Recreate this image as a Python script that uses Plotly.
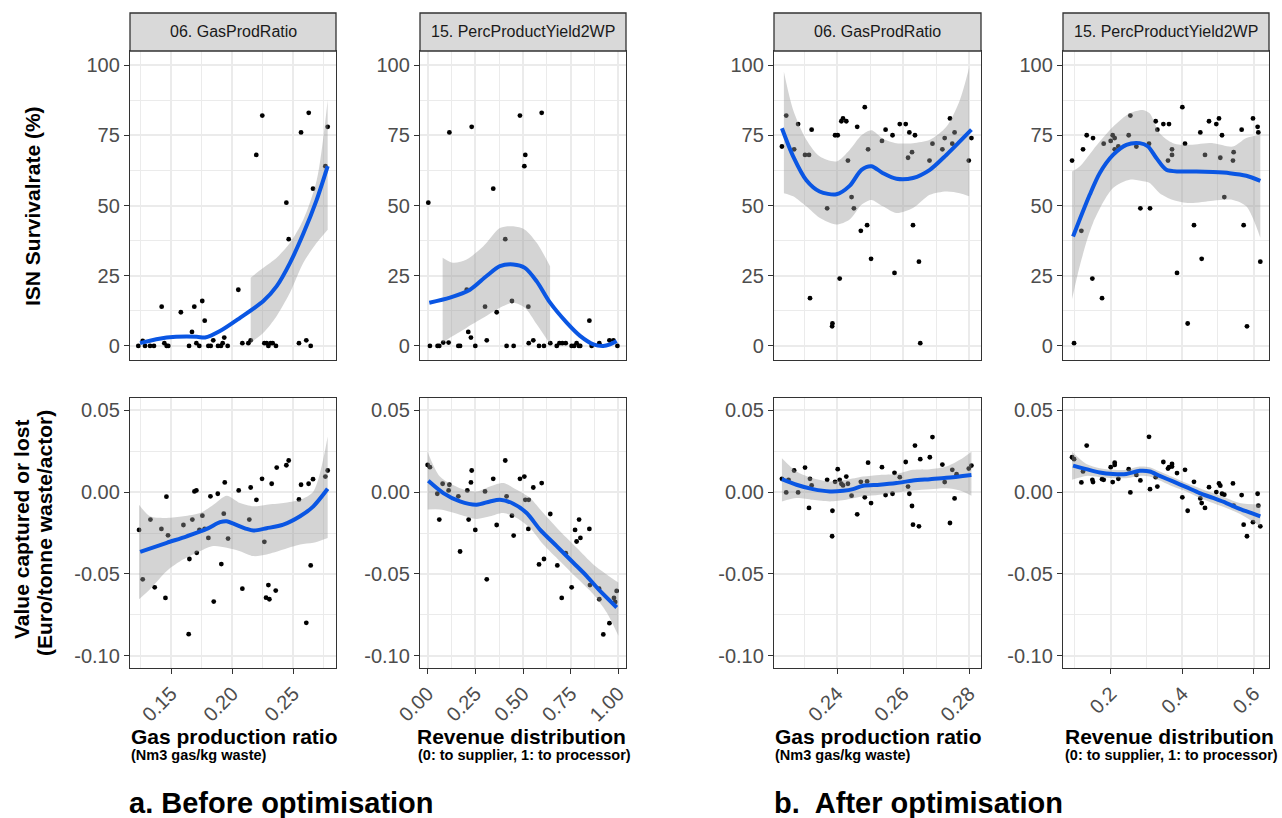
import plotly.graph_objects as go

W, H = 1282, 818

# ---------------- DATA ----------------
strip_labels = ["06. GasProdRatio", "15. PercProductYield2WP"]

# x ticks per column
gas_a_ticks = [0.15, 0.20, 0.25]
gas_a_ticktext = ["0.15", "0.20", "0.25"]
gas_a_minor = [0.125, 0.175, 0.225, 0.275]
rev_a_ticks = [0.0, 0.25, 0.5, 0.75, 1.0]
rev_a_ticktext = ["0.00", "0.25", "0.50", "0.75", "1.00"]
rev_a_minor = [0.125, 0.375, 0.625, 0.875]
gas_b_ticks = [0.24, 0.26, 0.28]
gas_b_ticktext = ["0.24", "0.26", "0.28"]
gas_b_minor = [0.23, 0.25, 0.27]
rev_b_ticks = [0.2, 0.4, 0.6]
rev_b_ticktext = ["0.2", "0.4", "0.6"]
rev_b_minor = [0.1, 0.3, 0.5]

isn_ticks = [0, 25, 50, 75, 100]
isn_ticktext = ["0", "25", "50", "75", "100"]
isn_minor = [12.5, 37.5, 62.5, 87.5]
val_ticks = [-0.10, -0.05, 0.0, 0.05]
val_ticktext = ["-0.10", "-0.05", "0.00", "0.05"]
val_minor = [-0.075, -0.025, 0.025]

# ---- a. Before optimisation, Gas production ratio, ISN survival rate
a_gas_top_x = [0.1232,0.1268,0.1287,0.1328,0.1360,0.1423,0.1445,0.1464,0.1477,0.1580,0.1647,0.1671,0.1690,0.1707,0.1731,0.1755,0.1775,0.1805,0.1824,0.1845,0.1884,0.1908,0.1922,0.1935,0.1963,0.2050,0.2083,0.2132,0.2151,0.2197,0.2246,0.2263,0.2282,0.2296,0.2315,0.2331,0.2358,0.2443,0.2462,0.2546,0.2563,0.2606,0.2626,0.2642,0.2661,0.2762,0.2781]
a_gas_top_y = [0,1.8,0,0,0,14,1,0,0,12,0,5,14,1,0,16,9,0,0,2,0,0,1,3,0,20,1,1,2,68,82,1,1,0,1,1,0,51,38,1,76,2,83,0,56,64,78]
a_gas_top_fit_x = [0.1246,0.1464,0.171,0.1778,0.19,0.2064,0.2255,0.2364,0.2473,0.2582,0.2691,0.2781]
a_gas_top_fit_y = [1,3,3.3,3,5.3,10,16,21.3,29.6,40,52,64]
a_gas_top_band_x = [0.2151,0.2255,0.2364,0.2473,0.2582,0.2691,0.2781]
a_gas_top_band_hi = [24.3,27.8,31.4,36.7,45,59,87.6]
a_gas_top_band_lo = [1.2,4.7,10.7,19,29.6,36.7,41.4]

# ---- a. Revenue distribution, ISN survival rate
a_rev_top_x = [0.0035,0.012,0.052,0.061,0.082,0.110,0.114,0.161,0.170,0.205,0.213,0.227,0.231,0.250,0.301,0.310,0.344,0.362,0.407,0.414,0.442,0.451,0.484,0.507,0.512,0.528,0.530,0.554,0.584,0.598,0.610,0.643,0.677,0.691,0.706,0.724,0.755,0.768,0.781,0.793,0.800,0.848,0.860,0.900,0.953,0.974,0.995]
a_rev_top_y = [51,0,0,0,1.2,1.2,76,0,0,20,5,3,78,0,14,2,56,12,38,0,16,0,82,64,68,14,1,2,0,83,0,1,0,1,1,1,0,0,1,0,0,9,0,1,2,2,0]
a_rev_top_fit_x = [0.0087,0.117,0.222,0.309,0.379,0.449,0.51,0.572,0.642,0.729,0.799,0.869,0.921,0.956,0.991]
a_rev_top_fit_y = [15.4,17.2,20,24.9,28.4,29,27.8,23,15.4,8.3,3.6,0.6,0,0.6,1.8]
a_rev_top_band_x = [0.0787,0.1346,0.2045,0.292,0.379,0.449,0.51,0.572,0.642]
a_rev_top_band_hi = [31.4,29.6,30.8,35.5,42,42.6,41.4,36.7,28.4]
a_rev_top_band_lo = [1.2,3.6,6.5,10,13.6,15.4,13.6,7.7,0.6]

# ---- b. After optimisation, Gas production ratio, ISN survival rate
b_gas_top_x = [0.2233,0.2246,0.2270,0.2282,0.2303,0.2315,0.2318,0.2323,0.2370,0.2385,0.2386,0.2394,0.2402,0.2408,0.2413,0.2418,0.2428,0.2433,0.2444,0.2451,0.2461,0.2472,0.2484,0.2491,0.2494,0.2503,0.2536,0.2547,0.2568,0.2574,0.2590,0.2608,0.2615,0.2619,0.2627,0.2630,0.2636,0.2648,0.2652,0.2680,0.2689,0.2719,0.2726,0.2742,0.2749,0.2756,0.2799,0.2807]
b_gas_top_y = [71,82,70,79,68,68,17,77,49,7,8,75,75,24,80,81,80,66,53,49,78,41,85,43,70,31,73,77,75,26,79,79,67,76,69,43,75,30,1,66,72,70,74,81,72,76,66,74]
b_gas_top_fit_x = [0.2233,0.2267,0.2307,0.2347,0.2398,0.2438,0.2474,0.2504,0.2539,0.258,0.263,0.2681,0.2731,0.2772,0.2807]
b_gas_top_fit_y = [77.5,67.5,59,55,54,57,62.7,64,61.5,59.5,59.8,62.7,68,72.8,77]
b_gas_top_band_x = [0.2239,0.2267,0.2307,0.2347,0.2398,0.2438,0.2474,0.2504,0.2539,0.258,0.263,0.2681,0.2731,0.2772,0.2800]
b_gas_top_band_hi = [97.6,84,73.4,67.5,65.7,69.8,75,76.8,73.8,72.2,72.2,73.4,78,87.6,99]
b_gas_top_band_lo = [54.4,53.3,49.7,45.6,43.2,45,50.3,52,49.7,47.3,49.1,53.8,55,54.4,53.3]

# ---- b. Revenue distribution, ISN survival rate
b_rev_top_x = [0.0919,0.0975,0.1180,0.1226,0.1329,0.1487,0.1506,0.1758,0.1804,0.2000,0.2056,0.2112,0.2112,0.2214,0.2503,0.2550,0.2718,0.2830,0.3072,0.3100,0.3258,0.3305,0.3473,0.3631,0.3603,0.3715,0.3715,0.3855,0.4004,0.4079,0.4153,0.4330,0.4507,0.4545,0.4638,0.4750,0.4954,0.5029,0.5066,0.5113,0.5178,0.5420,0.5439,0.5663,0.5719,0.5812,0.5980,0.6110,0.6129,0.6185]
b_rev_top_y = [66,1,41,70,75,24,74,17,72,73,75,74,70,71,75,82,71,49,72,49,80,77,79,79,66,68,70,26,85,72,8,43,76,31,68,80,79,81,67,75,53,66,69,77,43,7,81,78,76,30]
b_rev_top_fit_x = [0.0947,0.1133,0.1413,0.1692,0.2065,0.2438,0.2811,0.3044,0.3277,0.3556,0.3929,0.4395,0.4861,0.5327,0.5793,0.6185]
b_rev_top_fit_y = [39,45,53.8,61.5,68,71.6,72.2,71,66.9,62.7,62.1,62.1,61.9,61.5,60.6,58.8]
b_rev_top_band_x = [0.0919,0.1133,0.1506,0.2065,0.2531,0.2904,0.309,0.337,0.3743,0.4209,0.4861,0.542,0.5793,0.6185]
b_rev_top_band_hi = [62.1,63.9,69.8,78,82.8,84,82.8,75.7,72.2,71.6,72.2,71,74,75.1]
b_rev_top_band_lo = [16.6,28.4,43.8,56.2,59.2,58.6,58,54.4,52,50.9,51.7,52,49.7,38.5]

# ---- a. Gas production ratio, value captured or lost
a_gas_bot_x = [0.1238,0.1268,0.1331,0.1366,0.1421,0.1454,0.1462,0.1475,0.1601,0.1644,0.1650,0.1674,0.1691,0.1707,0.1710,0.1732,0.1756,0.1775,0.1805,0.1822,0.1849,0.1882,0.1911,0.1931,0.1939,0.1966,0.2053,0.2083,0.2140,0.2151,0.2198,0.2244,0.2263,0.2277,0.2296,0.2304,0.2323,0.2356,0.2364,0.2443,0.2462,0.2546,0.2563,0.2606,0.2625,0.2642,0.2661,0.2762,0.2781]
a_gas_bot_y = [-0.0231,-0.0533,-0.0168,-0.0582,-0.0225,-0.0647,-0.0028,-0.0264,-0.0201,-0.0868,-0.0409,-0.0168,0.0004,0.0010,-0.0371,-0.0231,-0.0144,-0.0225,-0.0280,-0.0026,-0.0669,-0.0010,-0.0440,-0.0132,0.0059,-0.0284,0.0010,-0.0590,-0.0168,0.0028,-0.0047,0.0081,-0.0304,-0.0645,-0.0568,-0.0655,0.0051,-0.0602,0.0150,0.0164,0.0193,-0.0045,0.0045,-0.0799,0.0051,-0.0448,0.0079,0.0095,0.0132]
a_gas_bot_fit_x = [0.1247,0.1465,0.1628,0.1792,0.19,0.1955,0.201,0.2119,0.2173,0.2282,0.2418,0.2555,0.2664,0.2781]
a_gas_bot_fit_y = [-0.0365,-0.031,-0.027,-0.0225,-0.0184,-0.0178,-0.0193,-0.0225,-0.0235,-0.0221,-0.0199,-0.0148,-0.0087,0.002]
a_gas_bot_band_x = [0.1238,0.1328,0.1465,0.1601,0.1737,0.1846,0.1955,0.2064,0.2173,0.2282,0.2418,0.2555,0.2664,0.2781]
a_gas_bot_band_hi = [-0.0077,-0.0148,-0.0158,-0.0148,-0.0128,-0.0077,-0.0022,-0.0067,-0.0087,-0.0077,-0.0067,-0.0047,0.0004,0.0339]
a_gas_bot_band_lo = [-0.0655,-0.0594,-0.0482,-0.0411,-0.0361,-0.033,-0.034,-0.0361,-0.0391,-0.0381,-0.0351,-0.032,-0.031,-0.028]

# ---- a. Revenue distribution, value captured or lost
a_rev_bot_x = [0.000,0.012,0.0507,0.0612,0.0787,0.110,0.114,0.161,0.170,0.208,0.215,0.227,0.231,0.250,0.301,0.310,0.344,0.362,0.407,0.414,0.442,0.451,0.484,0.507,0.512,0.528,0.530,0.554,0.584,0.598,0.610,0.643,0.680,0.703,0.724,0.755,0.773,0.781,0.794,0.801,0.848,0.851,0.899,0.900,0.921,0.953,0.977,0.983,0.991]
a_rev_bot_y = [0.0166,0.0152,-0.0010,-0.0168,0.0051,0.0010,0.0045,-0.0026,-0.0363,0.0010,-0.0168,0.0059,0.0132,-0.0231,0.0004,-0.0533,0.0081,-0.0201,0.0193,-0.0026,-0.0144,-0.0266,0.0081,0.0095,-0.0047,-0.0225,-0.0047,0.0028,-0.0442,0.0055,-0.0409,-0.0134,-0.0448,-0.0647,-0.0373,-0.0582,-0.0231,-0.0302,-0.0168,-0.0280,-0.0225,-0.0568,-0.0590,-0.0655,-0.0870,-0.0801,-0.0647,-0.0671,-0.0604]
a_rev_bot_fit_x = [0.0035,0.0822,0.1696,0.257,0.3269,0.3794,0.4493,0.5192,0.5892,0.6766,0.764,0.8339,0.9038,0.9913]
a_rev_bot_fit_y = [0.0069,-0.0006,-0.0057,-0.0077,-0.0057,-0.0047,-0.0071,-0.0128,-0.0229,-0.033,-0.0432,-0.0513,-0.0604,-0.0705]
a_rev_bot_band_x = [0.0,0.0647,0.1696,0.257,0.3269,0.3969,0.4668,0.5367,0.6066,0.6941,0.7815,0.8689,0.9388,1.0]
a_rev_bot_band_hi = [0.0247,0.0095,0.0024,0.0004,0.0034,0.0055,0.0014,-0.0036,-0.0128,-0.0239,-0.034,-0.0442,-0.0503,-0.0553]
a_rev_bot_band_lo = [-0.0107,-0.0107,-0.0138,-0.0164,-0.0148,-0.0128,-0.0158,-0.0219,-0.032,-0.0422,-0.0523,-0.0624,-0.0736,-0.0878]

# ---- b. Gas production ratio, value captured or lost
b_gas_bot_x = [0.2233,0.2246,0.2253,0.2270,0.2282,0.2303,0.2315,0.2318,0.2323,0.2370,0.2385,0.2386,0.2394,0.2402,0.2408,0.2413,0.2418,0.2428,0.2433,0.2444,0.2461,0.2472,0.2484,0.2491,0.2494,0.2503,0.2536,0.2547,0.2568,0.2574,0.2590,0.2608,0.2615,0.2619,0.2627,0.2630,0.2636,0.2648,0.2652,0.2681,0.2689,0.2719,0.2726,0.2742,0.2749,0.2756,0.2762,0.2799,0.2807]
b_gas_bot_y = [0.0081,-0.0002,0.0075,0.0132,-0.0002,0.0150,-0.0097,0.0081,0.0041,0.0075,-0.0270,-0.0114,0.0063,0.0140,0.0075,0.0051,0.0041,0.0095,0.0051,-0.0022,-0.0136,0.0063,-0.0032,0.0065,0.0180,-0.0067,0.0152,-0.0018,-0.0010,0.0118,0.0091,0.0184,0.0034,-0.0010,-0.0085,-0.0199,0.0284,-0.0209,0.0201,0.0213,0.0336,0.0168,0.0061,-0.0189,0.0136,-0.0039,0.0109,0.0144,0.0162]
b_gas_bot_fit_x = [0.2233,0.2277,0.2327,0.2378,0.2418,0.2448,0.2479,0.2529,0.258,0.263,0.2681,0.2731,0.2807]
b_gas_bot_fit_y = [0.0079,0.0045,0.0018,0.0004,0.0008,0.0018,0.0039,0.0045,0.0055,0.0071,0.0079,0.0087,0.0105]
b_gas_bot_band_x = [0.2233,0.2277,0.2327,0.2378,0.2428,0.2479,0.2529,0.258,0.263,0.2681,0.2731,0.2772,0.2807]
b_gas_bot_band_hi = [0.0207,0.0126,0.0085,0.0065,0.0075,0.0095,0.0105,0.0111,0.0136,0.014,0.0156,0.0197,0.0247]
b_gas_bot_band_lo = [-0.0057,-0.0036,-0.0047,-0.0057,-0.0047,-0.0026,-0.0016,-0.0002,0.001,0.0018,0.0024,0.001,-0.0022]

# ---- b. Revenue distribution, value captured or lost
b_rev_bot_x = [0.0919,0.0975,0.1180,0.1226,0.1329,0.1487,0.1506,0.1758,0.1804,0.2000,0.2056,0.2112,0.2112,0.2214,0.2503,0.2550,0.2718,0.2830,0.3072,0.3100,0.3258,0.3305,0.3473,0.3603,0.3631,0.3715,0.3715,0.3855,0.4004,0.4079,0.4153,0.4330,0.4507,0.4545,0.4638,0.4750,0.4954,0.5029,0.5066,0.5113,0.5178,0.5420,0.5439,0.5663,0.5719,0.5812,0.5980,0.6110,0.6129,0.6185]
b_rev_bot_y = [0.0213,0.0201,0.0059,0.0126,0.0284,0.0075,0.0061,0.0079,0.0075,0.0152,0.0061,0.0180,0.0166,0.0081,0.0140,-0.0002,0.0105,0.0071,0.0338,0.0018,0.0091,0.0034,0.0184,0.0144,0.0152,0.0172,0.0156,0.0116,-0.0032,0.0136,-0.0114,0.0063,-0.0039,-0.0067,-0.0097,0.0030,0.0000,0.0053,0.0039,-0.0010,-0.0016,0.0053,-0.0083,-0.0018,-0.0199,-0.0270,-0.0184,-0.0010,-0.0083,-0.0209]
b_rev_bot_fit_x = [0.0947,0.132,0.1692,0.2065,0.2438,0.2811,0.309,0.337,0.3743,0.4116,0.4488,0.4861,0.5234,0.5607,0.598,0.6185]
b_rev_bot_fit_y = [0.0162,0.014,0.012,0.0111,0.0111,0.013,0.0126,0.0099,0.0065,0.003,-0.0006,-0.0036,-0.0067,-0.0103,-0.0132,-0.0148]
b_rev_bot_band_x = [0.0919,0.132,0.1692,0.2065,0.2438,0.2811,0.309,0.337,0.3743,0.4116,0.4488,0.4861,0.5234,0.5607,0.6185]
b_rev_bot_band_hi = [0.0247,0.0172,0.0146,0.0136,0.0136,0.0156,0.0152,0.0126,0.0091,0.0055,0.0024,-0.0006,-0.0036,-0.0067,-0.0077]
b_rev_bot_band_lo = [0.0075,0.0099,0.0091,0.0085,0.0085,0.0099,0.0095,0.0071,0.0034,0.0004,-0.0036,-0.0067,-0.0097,-0.0132,-0.0209]

# ---------------- LAYOUT HELPERS ----------------
FONT = "Liberation Sans, Arial, Helvetica, sans-serif"
def fx(p): return p / W
def fy(p): return 1 - p / H

cols_px = [(130, 336), (420, 626), (774, 981), (1063, 1269)]
top_px = (51, 360)
bot_px = (398, 668)
strip_px = (13, 51)

x_ranges = [[0.1164, 0.2849], [-0.04, 1.04], [0.2209, 0.2836], [0.0666, 0.6428]]
x_ticks = [(gas_a_ticks, gas_a_ticktext, gas_a_minor), (rev_a_ticks, rev_a_ticktext, rev_a_minor),
           (gas_b_ticks, gas_b_ticktext, gas_b_minor), (rev_b_ticks, rev_b_ticktext, rev_b_minor)]

panels = [
    (a_gas_top_x, a_gas_top_y, a_gas_top_fit_x, a_gas_top_fit_y, a_gas_top_band_x, a_gas_top_band_hi, a_gas_top_band_lo),
    (a_rev_top_x, a_rev_top_y, a_rev_top_fit_x, a_rev_top_fit_y, a_rev_top_band_x, a_rev_top_band_hi, a_rev_top_band_lo),
    (b_gas_top_x, b_gas_top_y, b_gas_top_fit_x, b_gas_top_fit_y, b_gas_top_band_x, b_gas_top_band_hi, b_gas_top_band_lo),
    (b_rev_top_x, b_rev_top_y, b_rev_top_fit_x, b_rev_top_fit_y, b_rev_top_band_x, b_rev_top_band_hi, b_rev_top_band_lo),
    (a_gas_bot_x, a_gas_bot_y, a_gas_bot_fit_x, a_gas_bot_fit_y, a_gas_bot_band_x, a_gas_bot_band_hi, a_gas_bot_band_lo),
    (a_rev_bot_x, a_rev_bot_y, a_rev_bot_fit_x, a_rev_bot_fit_y, a_rev_bot_band_x, a_rev_bot_band_hi, a_rev_bot_band_lo),
    (b_gas_bot_x, b_gas_bot_y, b_gas_bot_fit_x, b_gas_bot_fit_y, b_gas_bot_band_x, b_gas_bot_band_hi, b_gas_bot_band_lo),
    (b_rev_bot_x, b_rev_bot_y, b_rev_bot_fit_x, b_rev_bot_fit_y, b_rev_bot_band_x, b_rev_bot_band_hi, b_rev_bot_band_lo),
]

GRID = "#EBEBEB"
BORDER = "#333333"
TICKFONT = dict(family=FONT, size=20, color="#4D4D4D")
LINE_BLUE = "#0A56E3"
BAND = "rgba(153,153,153,0.42)"

fig = go.Figure()
layout = dict(
    width=W, height=H, margin=dict(l=0, r=0, t=0, b=0, autoexpand=False),
    paper_bgcolor="white", plot_bgcolor="white", showlegend=False,
    font=dict(family=FONT),
)

for i, (px, py, fxs, fys, bx, bhi, blo) in enumerate(panels):
    n = i + 1
    row = 0 if i < 4 else 1
    col = i % 4
    xa = "x" if n == 1 else f"x{n}"
    ya = "y" if n == 1 else f"y{n}"
    # scatter points
    fig.add_trace(go.Scatter(x=px, y=py, mode="markers", xaxis=xa, yaxis=ya,
                             marker=dict(color="black", size=4.8), hoverinfo="skip"))
    # confidence band
    fig.add_trace(go.Scatter(x=bx, y=blo, mode="lines", xaxis=xa, yaxis=ya,
                             line=dict(width=0, shape="spline", smoothing=0.8), hoverinfo="skip"))
    fig.add_trace(go.Scatter(x=bx, y=bhi, mode="lines", xaxis=xa, yaxis=ya, fill="tonexty",
                             fillcolor=BAND, line=dict(width=0, shape="spline", smoothing=0.8),
                             hoverinfo="skip"))
    # smooth fit
    fig.add_trace(go.Scatter(x=fxs, y=fys, mode="lines", xaxis=xa, yaxis=ya,
                             line=dict(color=LINE_BLUE, width=4, shape="spline", smoothing=0.8),
                             hoverinfo="skip"))

    c0, c1 = cols_px[col]
    r0, r1 = top_px if row == 0 else bot_px
    tv, tt, mv = x_ticks[col]
    xkey = "xaxis" if n == 1 else f"xaxis{n}"
    ykey = "yaxis" if n == 1 else f"yaxis{n}"
    xdict = dict(domain=[fx(c0), fx(c1)], anchor=ya, range=x_ranges[col], automargin=False,
                 tickvals=tv, ticktext=tt, showgrid=True, gridcolor=GRID, gridwidth=2,
                 zeroline=False, showline=True, mirror=True, linecolor=BORDER, linewidth=1.3,
                 minor=dict(tickvals=mv, showgrid=True, gridcolor=GRID, gridwidth=1.2, ticks=""),
                 tickfont=TICKFONT)
    if row == 0:
        xdict.update(showticklabels=False, ticks="")
    else:
        xdict.update(ticks="outside", ticklen=5, tickwidth=1.3, tickcolor=BORDER,
                     tickangle=-45)
    if row == 0:
        yv, yt, ym, yr = isn_ticks, isn_ticktext, isn_minor, [-5, 105]
    else:
        yv, yt, ym, yr = val_ticks, val_ticktext, val_minor, [-0.1075, 0.0575]
    ydict = dict(domain=[fy(r1), fy(r0)], anchor=xa, range=yr, automargin=False,
                 tickvals=yv, ticktext=yt, showgrid=True, gridcolor=GRID, gridwidth=2,
                 zeroline=False, showline=True, mirror=True, linecolor=BORDER, linewidth=1.3,
                 minor=dict(tickvals=ym, showgrid=True, gridcolor=GRID, gridwidth=1.2, ticks=""),
                 ticks="outside", ticklen=5, tickwidth=1.3, tickcolor=BORDER, tickfont=TICKFONT)
    layout[xkey] = xdict
    layout[ykey] = ydict

shapes = []
annotations = []
# facet strips on top row
for col in range(4):
    c0, c1 = cols_px[col]
    shapes.append(dict(type="rect", xref="paper", yref="paper",
                       x0=fx(c0), x1=fx(c1), y0=fy(strip_px[1]), y1=fy(strip_px[0]),
                       fillcolor="#D9D9D9", line=dict(color=BORDER, width=1.3)))
    annotations.append(dict(xref="paper", yref="paper", x=fx((c0 + c1) / 2),
                            y=fy((strip_px[0] + strip_px[1]) / 2),
                            text=strip_labels[col % 2], showarrow=False,
                            font=dict(family=FONT, size=16, color="#1A1A1A"),
                            xanchor="center", yanchor="middle"))

# axis titles
x_titles = ["Gas production ratio", "Revenue distribution", "Gas production ratio", "Revenue distribution"]
x_subtitles = ["(Nm3 gas/kg waste)", "(0: to supplier, 1: to processor)",
               "(Nm3 gas/kg waste)", "(0: to supplier, 1: to processor)"]
title_left_px = [129, 415, 773, 1063]
sub_left_px = [129, 416, 773, 1063]
for col in range(4):
    annotations.append(dict(xref="paper", yref="paper", x=fx(title_left_px[col]), y=fy(736),
                            text=f"<b>{x_titles[col]}</b>", showarrow=False,
                            xanchor="left", yanchor="middle",
                            font=dict(family=FONT, size=21, color="black")))
    annotations.append(dict(xref="paper", yref="paper", x=fx(sub_left_px[col]), y=fy(755),
                            text=f"<b>{x_subtitles[col]}</b>", showarrow=False,
                            xanchor="left", yanchor="middle",
                            font=dict(family=FONT, size=14.5, color="black")))

annotations.append(dict(xref="paper", yref="paper", x=fx(32), y=fy(206),
                        text="<b>ISN Survivalrate (%)</b>", showarrow=False, textangle=-90,
                        xanchor="center", yanchor="middle",
                        font=dict(family=FONT, size=21, color="black")))
annotations.append(dict(xref="paper", yref="paper", x=fx(21), y=fy(530),
                        text="<b>Value captured or lost</b>", showarrow=False, textangle=-90,
                        xanchor="center", yanchor="middle",
                        font=dict(family=FONT, size=21, color="black")))
annotations.append(dict(xref="paper", yref="paper", x=fx(44), y=fy(533),
                        text="<b>(Euro/tonne waste/actor)</b>", showarrow=False, textangle=-90,
                        xanchor="center", yanchor="middle",
                        font=dict(family=FONT, size=21, color="black")))

group_titles = ["a. Before optimisation", "b.\u00a0 After optimisation"]
group_left_px = [127, 772]
for k in range(2):
    annotations.append(dict(xref="paper", yref="paper", x=fx(group_left_px[k]), y=fy(803),
                            text=f"<b>{group_titles[k]}</b>", showarrow=False,
                            xanchor="left", yanchor="middle",
                            font=dict(family=FONT, size=29, color="black")))

layout["shapes"] = shapes
layout["annotations"] = annotations
fig.update_layout(**layout)
fig.write_html("out.html")
